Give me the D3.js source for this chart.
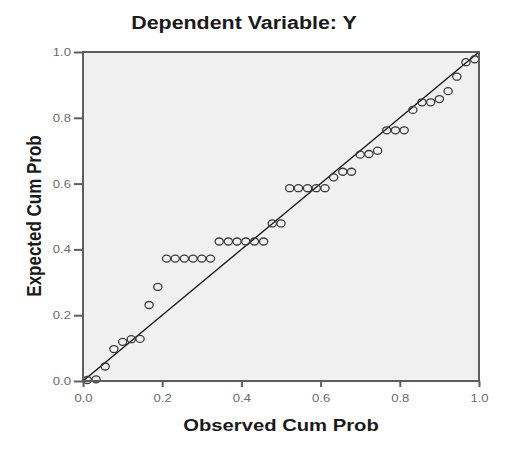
<!DOCTYPE html>
<html>
<head>
<meta charset="utf-8">
<script src="https://cdn.jsdelivr.net/npm/d3@7"></script>
<style>
  body { margin: 0; background: #fff; }
  text { font-family: "Liberation Sans", Arial, sans-serif; }
</style>
</head>
<body>
<div id="chart"></div>
<script>
// observed vs expected cumulative probabilities
const observed = [0.011, 0.033, 0.056, 0.078, 0.100, 0.122, 0.144, 0.167, 0.189,
    0.211, 0.233, 0.256, 0.278, 0.300, 0.322, 0.344, 0.367, 0.389, 0.411, 0.433,
    0.456, 0.478, 0.500, 0.522, 0.544, 0.567, 0.589, 0.611, 0.633, 0.656, 0.678,
    0.700, 0.722, 0.744, 0.767, 0.789, 0.811, 0.833, 0.856, 0.878, 0.900, 0.922,
    0.944, 0.967, 0.989];
const expected = [0.003, 0.005, 0.044, 0.097, 0.119, 0.127, 0.128, 0.231, 0.286,
    0.372, 0.372, 0.372, 0.372, 0.372, 0.372, 0.424, 0.424, 0.424, 0.424, 0.424,
    0.424, 0.479, 0.479, 0.586, 0.586, 0.586, 0.586, 0.586, 0.619, 0.636, 0.636,
    0.688, 0.690, 0.700, 0.762, 0.762, 0.762, 0.824, 0.847, 0.847, 0.857, 0.881,
    0.925, 0.969, 0.978];
const refLine = [0, 1];
const tickValues = [0, 0.2, 0.4, 0.6, 0.8, 1.0];

const chartTitle = "Dependent Variable: Y";
const xTitle = "Observed Cum Prob";
const yTitle = "Expected Cum Prob";

const width = 510, height = 450;
const stretch = 1.19; // the source picture is widened horizontally
const frameColor = "#5e5e5e";

const x = d3.scaleLinear().domain([0, 1]).range([83, 479]);
const y = d3.scaleLinear().domain([0, 1]).range([381, 52]);

const svg = d3.select("#chart")
    .append("svg")
    .attr("width", width)
    .attr("height", height);

// plot background
svg.append("rect")
    .attr("x", x(0))
    .attr("y", y(1))
    .attr("width", x(1) - x(0))
    .attr("height", y(0) - y(1))
    .attr("fill", "#f0f0f0");

// axes
const fmt = d3.format(".1f");

const yAxis = svg.append("g")
    .attr("transform", `translate(${x(0)},0)`)
    .call(d3.axisLeft(y).tickValues(tickValues).tickFormat(fmt).tickSize(9).tickPadding(3));

const xAxis = svg.append("g")
    .attr("transform", `translate(0,${y(0)})`)
    .call(d3.axisBottom(x).tickValues(tickValues).tickFormat(fmt).tickSize(6).tickPadding(7));

[xAxis, yAxis].forEach(g => {
    g.select(".domain").remove();
    g.selectAll(".tick line").attr("stroke", frameColor).attr("stroke-width", 2);
    g.selectAll(".tick text")
        .attr("fill", "#6a6a6a")
        .attr("font-size", 11)
        .attr("font-family", "Liberation Sans, Arial, sans-serif");
});
// widen tick labels like the source
yAxis.selectAll(".tick text")
    .attr("transform", function () {
        const tx = +d3.select(this).attr("x");
        return `translate(${tx},0) scale(${stretch},1) translate(${-tx},0)`;
    });
xAxis.selectAll(".tick text")
    .attr("transform", `scale(${stretch},1)`);

// reference diagonal
svg.append("line")
    .attr("x1", x(refLine[0])).attr("y1", y(refLine[0]))
    .attr("x2", x(refLine[1])).attr("y2", y(refLine[1]))
    .attr("stroke", "#111")
    .attr("stroke-width", 1.3);

// points
svg.append("g")
    .selectAll("ellipse")
    .data(observed.map((d, i) => [d, expected[i]]))
    .join("ellipse")
    .attr("cx", d => x(d[0]))
    .attr("cy", d => y(d[1]))
    .attr("rx", 4.1)
    .attr("ry", 3.5)
    .attr("fill", "none")
    .attr("stroke", "#3a3a3a")
    .attr("stroke-width", 1.3);

// frame
svg.append("rect")
    .attr("x", x(0))
    .attr("y", y(1))
    .attr("width", x(1) - x(0))
    .attr("height", y(0) - y(1))
    .attr("fill", "none")
    .attr("stroke", frameColor)
    .attr("stroke-width", 2);

// titles
svg.append("text")
    .attr("transform", `translate(244,29) scale(${stretch},1)`)
    .attr("text-anchor", "middle")
    .attr("font-size", 18)
    .attr("font-weight", "bold")
    .attr("fill", "#1a1a1a")
    .text(chartTitle);

svg.append("text")
    .attr("transform", `translate(281,431) scale(${stretch},1)`)
    .attr("text-anchor", "middle")
    .attr("font-size", 17)
    .attr("font-weight", "bold")
    .attr("fill", "#1a1a1a")
    .text(xTitle);

svg.append("text")
    .attr("transform", `translate(41,216) scale(${stretch},1) rotate(-90)`)
    .attr("text-anchor", "middle")
    .attr("font-size", 17)
    .attr("font-weight", "bold")
    .attr("fill", "#1a1a1a")
    .text(yTitle);
</script>
</body>
</html>
